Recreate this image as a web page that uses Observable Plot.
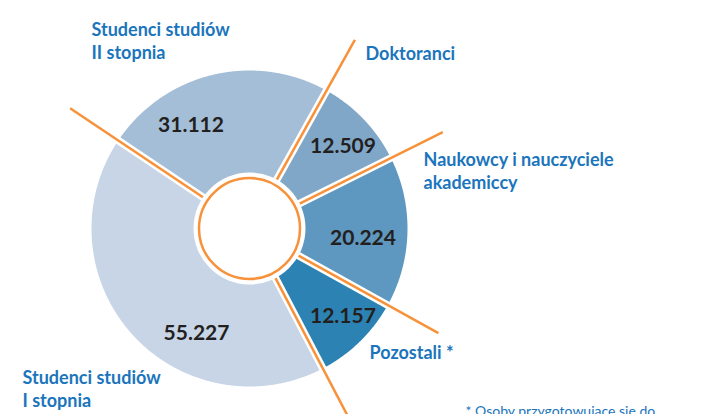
<!DOCTYPE html>
<html>
<head>
<meta charset="utf-8">
<script src="https://cdn.jsdelivr.net/npm/d3@7"></script>
<script src="https://cdn.jsdelivr.net/npm/@observablehq/plot@0.6"></script>
<style>
  html, body { margin: 0; padding: 0; background: #fff; }
  #chart svg { display: block; }
</style>
</head>
<body>
<div id="chart"></div>
<script>
// ---- data ----
const categories = ["Doktoranci", "Naukowcy i nauczyciele akademiccy", "Pozostali *", "Studenci studiów I stopnia", "Studenci studiów II stopnia"];
const values = [12509, 20224, 12157, 55227, 31112];
const valueLabels = ["12.509", "20.224", "12.157", "55.227", "31.112"];
const categoryLabels = ["Doktoranci", "Naukowcy i nauczyciele\nakademiccy", "Pozostali *", "Studenci studiów\nI stopnia", "Studenci studiów\nII stopnia"];
const footnote = "* Osoby przygotowujące się do";

// ---- styles / layout ----
const colors = ["#80a7c8", "#5e97bf", "#2c83b3", "#c7d5e7", "#a4bed8"];
const ORANGE = "#f7923a", BLUE = "#1b75bc", DARK = "#231f20";
const W = 715, H = 414, CX = 249, CY = 228, R = 158;
const startDeg = 29.2;
// value label placement: offset from segment mid-angle (deg), radius (fraction of R)
const valueLayout = [[2.4, 0.787], [3.75, 0.721], [-2.35, 0.813], [-21.3, 0.744], [-16.1, 0.75]];
// category label placement (pixel: left x, baseline of last line)
const catLayout = [[365, 59], [423, 188], [369, 358], [22, 406], [91, 58]];
const footLayout = [465, 415];

const toX = p => (p - CX) / R;
const toY = p => (CY - p) / R;
const rad = d => d * Math.PI / 180;
const polar = (a, r) => ({x: r * Math.sin(a), y: r * Math.cos(a)});

const pie = d3.pie().sort(null).value(d => d)
  .startAngle(rad(startDeg)).endAngle(rad(startDeg) + 2 * Math.PI)(values);

const arcs = pie.map((p, i) => {
  const n = Math.max(2, Math.ceil((p.endAngle - p.startAngle) / 0.005));
  const pts = [{x: 0, y: 0}];
  for (let k = 0; k <= n; k++) pts.push(polar(p.startAngle + (p.endAngle - p.startAngle) * k / n, 1));
  pts.push({x: 0, y: 0});
  return pts;
});

const bounds = pie.map(p => p.startAngle);

const valueData = pie.map((p, i) => {
  const mid = (p.startAngle + p.endAngle) / 2 + rad(valueLayout[i][0]);
  const q = polar(mid, valueLayout[i][1]);
  return {x: q.x, y: q.y, label: valueLabels[i]};
});

const catData = categoryLabels.map((t, i) => ({x: toX(catLayout[i][0]), y: toY(catLayout[i][1]), label: t}));

const marks = [];
arcs.forEach((pts, i) => marks.push(Plot.line(pts, {x: "x", y: "y", fill: colors[i], stroke: "none", curve: "linear"})));
marks.push(Plot.link(bounds, {
  x1: a => 0.2 * Math.sin(a), y1: a => 0.2 * Math.cos(a),
  x2: a => 1.05 * Math.sin(a), y2: a => 1.05 * Math.cos(a),
  stroke: "white", strokeWidth: 7.5
}));
marks.push(Plot.link(bounds, {
  x1: a => (56 / R) * Math.sin(a), y1: a => (56 / R) * Math.cos(a),
  x2: a => (216 / R) * Math.sin(a), y2: a => (216 / R) * Math.cos(a),
  stroke: ORANGE, strokeWidth: 2.5, strokeLinecap: "butt"
}));
marks.push(Plot.dot([{x: 0, y: 0}], {x: "x", y: "y", r: 56, fill: "white", stroke: "none"}));
marks.push(Plot.dot([{x: 0, y: 0}], {x: "x", y: "y", r: 50.5, fill: "white", stroke: ORANGE, strokeWidth: 2.5}));
marks.push(Plot.text(valueData, {x: "x", y: "y", text: "label", fill: DARK, fontSize: 21, fontWeight: "bold", textAnchor: "middle", lineAnchor: "middle"}));
marks.push(Plot.text(catData, {x: "x", y: "y", text: "label", fill: BLUE, fontSize: 18, fontWeight: "bold", textAnchor: "start", lineAnchor: "bottom", lineHeight: 1.25}));
marks.push(Plot.text([footnote], {x: toX(footLayout[0]), y: toY(footLayout[1]), text: d => d, fill: BLUE, fontSize: 14, textAnchor: "start", lineAnchor: "bottom"}));

const chart = Plot.plot({
  width: W, height: H,
  margin: 0,
  style: {fontFamily: "Lato, sans-serif", background: "white", overflow: "hidden"},
  x: {domain: [toX(0), toX(W)], range: [0, W], axis: null},
  y: {domain: [toY(H), toY(0)], range: [H, 0], axis: null},
  marks
});
document.getElementById("chart").appendChild(chart);
</script>
</body>
</html>
